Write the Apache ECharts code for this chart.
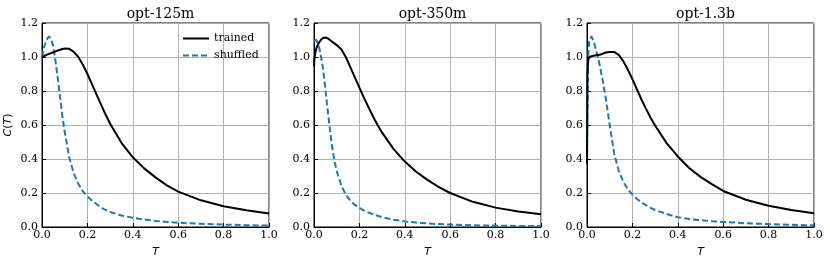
<!DOCTYPE html>
<html>
<head>
<meta charset="utf-8">
<script src="https://cdn.jsdelivr.net/npm/echarts@6/dist/echarts.min.js"></script>
<style>html,body{margin:0;padding:0;background:#fff}#c{width:830px;height:263px}</style>
</head>
<body>
<div id="c"></div>
<script>
const models = ['opt-125m', 'opt-350m', 'opt-1.3b'];
const T = [0, 0.002, 0.005, 0.01, 0.02, 0.03, 0.04, 0.05, 0.06, 0.07, 0.08, 0.09, 0.1, 0.12, 0.14, 0.16, 0.18, 0.2, 0.22, 0.24, 0.26, 0.28, 0.3, 0.35, 0.4, 0.45, 0.5, 0.55, 0.6, 0.7, 0.8, 0.9, 1.0];
const trained125m = [1.0, 1.001, 1.003, 1.006, 1.012, 1.018, 1.023, 1.028, 1.033, 1.038, 1.043, 1.047, 1.05, 1.048, 1.03, 1.0, 0.955, 0.9, 0.84, 0.78, 0.72, 0.662, 0.607, 0.495, 0.41, 0.345, 0.292, 0.245, 0.208, 0.157, 0.122, 0.098, 0.079];
const shuffled125m = [1.0, 1.012, 1.03, 1.06, 1.1, 1.12, 1.11, 1.06, 0.97, 0.87, 0.76, 0.65, 0.56, 0.41, 0.315, 0.255, 0.21, 0.18, 0.155, 0.135, 0.115, 0.1, 0.088, 0.068, 0.054, 0.044, 0.036, 0.03, 0.025, 0.019, 0.014, 0.011, 0.008];
const trained350m = [0.945, 0.99, 1.02, 1.05, 1.08, 1.1, 1.112, 1.115, 1.11, 1.1, 1.09, 1.08, 1.07, 1.045, 1.0, 0.94, 0.88, 0.82, 0.76, 0.705, 0.65, 0.6, 0.555, 0.46, 0.385, 0.325, 0.277, 0.235, 0.2, 0.148, 0.114, 0.091, 0.075];
const shuffled350m = [1.095, 1.097, 1.1, 1.1, 1.07, 1.01, 0.93, 0.81, 0.69, 0.575, 0.47, 0.39, 0.33, 0.245, 0.19, 0.155, 0.13, 0.112, 0.097, 0.085, 0.075, 0.066, 0.058, 0.043, 0.033, 0.026, 0.021, 0.017, 0.014, 0.01, 0.008, 0.006, 0.005];
const trained13b = [0.37, 0.9, 0.98, 1.0, 1.005, 1.008, 1.01, 1.012, 1.015, 1.02, 1.025, 1.028, 1.03, 1.03, 1.012, 0.975, 0.925, 0.87, 0.81, 0.75, 0.695, 0.643, 0.597, 0.495, 0.415, 0.347, 0.295, 0.252, 0.212, 0.16, 0.125, 0.1, 0.081];
const shuffled13b = [0.37, 0.75, 1.0, 1.1, 1.12, 1.09, 1.04, 0.99, 0.925, 0.855, 0.78, 0.69, 0.6, 0.43, 0.33, 0.265, 0.222, 0.19, 0.165, 0.145, 0.128, 0.113, 0.1, 0.077, 0.057, 0.047, 0.04, 0.034, 0.03, 0.022, 0.017, 0.013, 0.01];
const trainedAll = [trained125m, trained350m, trained13b];
const shuffledAll = [shuffled125m, shuffled350m, shuffled13b];
const seriesNames = ['trained', 'shuffled'];

const lefts = [42, 314, 587];
const width = 227;
const serif = 'DejaVu Serif';
const chart = echarts.init(document.getElementById('c'), null, {renderer: 'canvas'});
const pairs = (ys) => T.map((t, i) => [t, ys[i]]);

const grids = [], xAxes = [], yAxes = [], series = [], titles = [];
models.forEach((m, k) => {
  grids.push({left: lefts[k], top: 23, width: width, height: 205, show: true, borderColor: '#000', borderWidth: 1, backgroundColor: 'transparent', containLabel: false});
  titles.push({text: m, left: lefts[k] + width / 2, top: 2, textAlign: 'center',
    textStyle: {fontFamily: serif, fontSize: 14, fontWeight: 'normal', color: '#000'}});
  xAxes.push({type: 'value', gridIndex: k, min: 0, max: 1, interval: 0.2,
    name: 'T', nameLocation: 'middle', nameGap: 20,
    nameTextStyle: {fontFamily: 'DejaVu Sans', fontStyle: 'italic', fontSize: 11, color: '#000'},
    axisLine: {show: true, lineStyle: {color: '#000', width: 1}},
    axisTick: {show: true, inside: true, length: 4, lineStyle: {color: '#000'}},
    axisLabel: {fontFamily: serif, fontSize: 11, color: '#000', margin: 3, formatter: v => v.toFixed(1)},
    splitLine: {show: true, lineStyle: {color: '#b0b0b0', width: 1}}});
  yAxes.push({type: 'value', gridIndex: k, min: 0, max: 1.2, interval: 0.2,
    name: k === 0 ? '{i|C}({i|T})' : '', nameLocation: 'middle', nameGap: 28, nameRotate: 90,
    nameTextStyle: {fontFamily: 'DejaVu Sans', fontSize: 11, color: '#000',
      rich: {i: {fontFamily: 'DejaVu Sans', fontStyle: 'italic', fontSize: 11}}},
    axisLine: {show: true, lineStyle: {color: '#000', width: 1}},
    axisTick: {show: true, inside: true, length: 4, lineStyle: {color: '#000'}},
    axisLabel: {fontFamily: serif, fontSize: 11, color: '#000', margin: 4, formatter: v => v.toFixed(1)},
    splitLine: {show: true, lineStyle: {color: '#b0b0b0', width: 1}}});
  series.push({name: seriesNames[0], type: 'line', xAxisIndex: k, yAxisIndex: k, data: pairs(trainedAll[k]),
    showSymbol: false, symbol: 'none', smooth: false, lineStyle: {color: '#000', width: 2, join: 'round'}, itemStyle: {color: '#000'}, z: 3});
  series.push({name: seriesNames[1], type: 'line', xAxisIndex: k, yAxisIndex: k, data: pairs(shuffledAll[k]),
    showSymbol: false, symbol: 'none', smooth: false, lineStyle: {color: '#1f77b4', width: 2, type: [6, 3], join: 'round'}, itemStyle: {color: '#1f77b4'}, z: 2});
});

chart.setOption({
  animation: false,
  backgroundColor: '#fff',
  title: titles,
  grid: grids, xAxis: xAxes, yAxis: yAxes, series: series,
  legend: {data: seriesNames, orient: 'vertical', left: 177, top: 28, itemWidth: 26, itemHeight: 10, itemGap: 6,
    itemStyle: {opacity: 0},
    textStyle: {fontFamily: serif, fontSize: 11, color: '#000'}}
});
</script>
</body>
</html>
